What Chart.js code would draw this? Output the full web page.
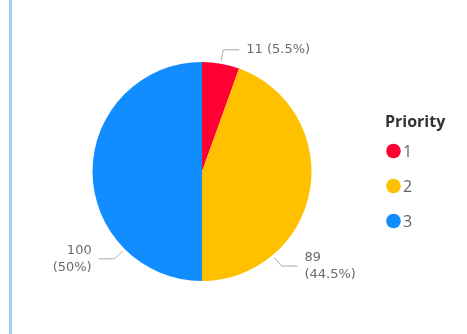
<!DOCTYPE html>
<html>
<head>
<meta charset="utf-8">
<script src="https://cdn.jsdelivr.net/npm/chart.js@4.4.0/dist/chart.umd.min.js"></script>
<style>
    body { margin: 0; background: #fff; }
    #wrap { position: relative; width: 467px; height: 334px; overflow: hidden; }
    #edge { position: absolute; left: 9px; top: 0; width: 3px; height: 334px; background: #a3ccfb; }
    canvas { position: absolute; left: 0; top: 0; }
</style>
</head>
<body>
<div id="wrap">
    <div id="edge"></div>
    <canvas id="canvasPriority" width="467" height="334"></canvas>
</div>
<script>
"use strict";

// data
var priorities = ['1', '2', '3'];
var counts = [11, 89, 100];
var legendTitle = 'Priority';

var sliceColors = ['#FF0032', '#FFC000', '#118DFF'];

// where along each slice the leader line leaves the pie (0 = start, 1 = end)
var labelAnchor = [0.5, 0.75, 0.25];
var labelTwoLines = [false, true, true];

function FormatPercent(value, total) {
    var pct = Math.round(value / total * 1000) / 10;
    return pct + '%';
}

// outside data labels with leader lines
var outsideLabels = {
    id: 'outsideLabels',
    afterDatasetsDraw: function (chart) {
        var ctx = chart.ctx;
        var meta = chart.getDatasetMeta(0);
        var data = chart.data.datasets[0].data;
        var total = data.reduce(function (a, b) { return a + b; }, 0);

        ctx.save();
        ctx.font = '13px "DejaVu Sans"';
        ctx.fillStyle = '#6b6b6b';
        ctx.strokeStyle = '#a8a8a8';
        ctx.lineWidth = 1;
        ctx.textBaseline = 'middle';

        meta.data.forEach(function (arc, i) {
            var p = arc.getProps(['x', 'y', 'startAngle', 'endAngle', 'outerRadius'], true);
            var angle = p.startAngle + (p.endAngle - p.startAngle) * labelAnchor[i];
            var cos = Math.cos(angle), sin = Math.sin(angle);
            var r0 = p.outerRadius + 3;
            var r1 = p.outerRadius + 14;
            var x0 = p.x + cos * r0, y0 = p.y + sin * r0;
            var x1 = p.x + cos * r1, y1 = p.y + sin * r1;
            var dir = cos >= 0 ? 1 : -1;
            var x2 = x1 + dir * 16;

            ctx.beginPath();
            ctx.moveTo(x0, y0);
            ctx.lineTo(x1, y1);
            ctx.lineTo(x2, y1);
            ctx.stroke();

            var tx = x2 + dir * 7;
            ctx.textAlign = dir > 0 ? 'left' : 'right';
            var valueText = String(data[i]);
            var pctText = '(' + FormatPercent(data[i], total) + ')';
            if (labelTwoLines[i]) {
                ctx.fillText(valueText, tx, y1 - 8);
                ctx.fillText(pctText, tx, y1 + 9);
            } else {
                ctx.fillText(valueText + ' ' + pctText, tx, y1);
            }
        });
        ctx.restore();
    }
};

// legend on the right: title plus round markers
var sideLegend = {
    id: 'sideLegend',
    afterDraw: function (chart) {
        var ctx = chart.ctx;
        var labels = chart.data.labels;
        var colors = chart.data.datasets[0].backgroundColor;
        var left = 385;
        var top = 122;

        ctx.save();
        ctx.textBaseline = 'middle';
        ctx.textAlign = 'left';
        ctx.font = 'bold 16px "Open Sans"';
        ctx.fillStyle = '#333333';
        ctx.fillText(legendTitle, left, top);

        ctx.font = '16px "Open Sans"';
        labels.forEach(function (label, i) {
            var cy = top + 29 + i * 35;
            ctx.beginPath();
            ctx.fillStyle = colors[i];
            ctx.arc(left + 8.5, cy, 7.3, 0, Math.PI * 2);
            ctx.fill();
            ctx.fillStyle = '#666666';
            ctx.fillText(label, left + 18, cy + 1);
        });
        ctx.restore();
    }
};

const context = document.getElementById('canvasPriority');
const myChart = new Chart(context, {
    type: 'pie',
    data: {
        labels: priorities,
        datasets: [{
            label: 'Priority',
            data: counts,
            backgroundColor: sliceColors,
            borderWidth: 0,
            hoverOffset: 0,
            offset: 0
        }]
    },
    options: {
        responsive: false,
        animation: false,
        events: [],
        layout: {
            padding: { top: 62, bottom: 53, left: 60, right: 123 }
        },
        plugins: {
            legend: { display: false },
            tooltip: { enabled: false }
        }
    },
    plugins: [outsideLabels, sideLegend]
});
</script>
</body>
</html>
